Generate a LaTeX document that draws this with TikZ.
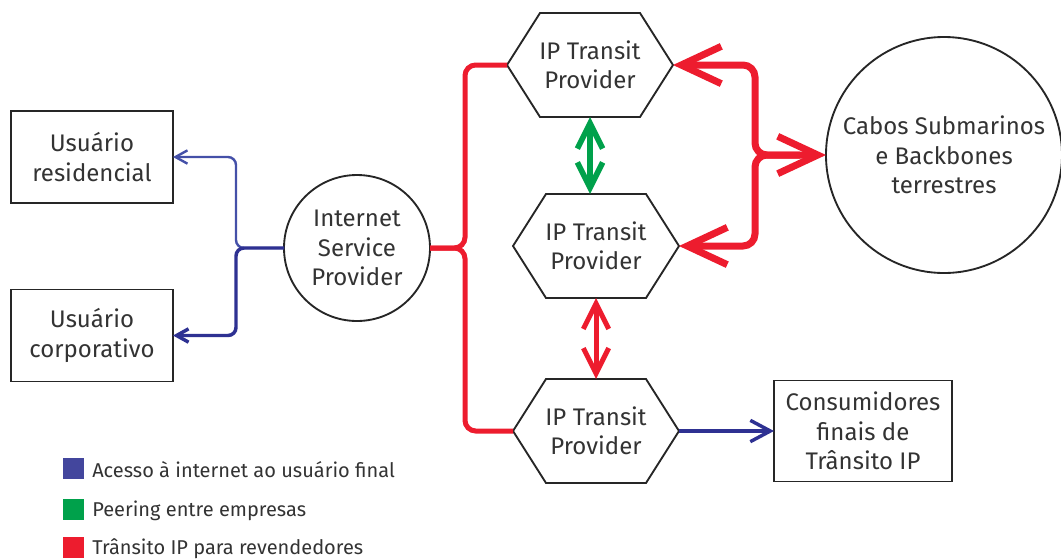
\documentclass[tikz,border=0pt]{standalone}
\usepackage{fontspec}
\setmainfont{Fira Sans}
\usetikzlibrary{arrows.meta}
\definecolor{cblue}{HTML}{2E3192}
\definecolor{cblueL}{HTML}{4450A8}
\definecolor{cgreen}{HTML}{00A14B}
\definecolor{cred}{HTML}{ED1C2E}
\definecolor{txt}{HTML}{333333}
\newcommand\hexoutline[1]{%
  \draw[hexline] (#1.west) -- ([xshift=24.75pt]#1.north west) -- ([xshift=-24.75pt]#1.north east)
    -- (#1.east) -- ([xshift=-24.75pt]#1.south east) -- ([xshift=24.75pt]#1.south west) -- cycle;}
\tikzset{
  lbl/.style={font=\fontsize{18}{22}\selectfont, text=txt, align=center},
  boxnode/.style={lbl, draw=black!85, line width=1.4pt, minimum width=121.5pt, minimum height=69pt, inner sep=0pt, outer sep=0pt},
  circnode/.style={lbl, draw=black!85, line width=1.4pt, circle, inner sep=0pt, outer sep=0pt},
  hexbox/.style={lbl, minimum width=124.5pt, minimum height=78pt, inner sep=0pt, outer sep=0pt},
  hexline/.style={draw=black!85, line width=1.4pt, line join=miter},
  legsq/.style={minimum size=15.75pt, inner sep=0pt, outer sep=0pt},
  legtxt/.style={font=\fontsize{15}{18}\selectfont, text=txt, inner sep=0pt, anchor=base west},
  bluethin/.style={draw=cblueL, line width=1.8pt, rounded corners=6pt},
  bluethick/.style={draw=cblue, line width=2.6pt, rounded corners=6pt},
  redleft/.style={draw=cred, line width=3.75pt, rounded corners=8pt},
  redright/.style={draw=cred, line width=5.25pt, rounded corners=9pt},
  bigbarb/.tip={Straight Barb[length=30pt, width=28pt]},
  smallbarb/.tip={Straight Barb[length=9pt, width=10pt]},
  midbarb/.tip={Straight Barb[length=19pt, width=19pt]},
  consbarb/.tip={Straight Barb[length=15pt, width=16pt]},
}
\begin{document}
\begin{tikzpicture}[x=0.75pt, y=-0.75pt]
\useasboundingbox (0,0) rectangle (1061,558);

% nodes
\node[boxnode] (res) at (92,157) {Usuário\\residencial};
\node[boxnode] (corp) at (92,335.5) {Usuário\\corporativo};
\node[circnode, minimum size=109.5pt] (isp) at (357,248) {Internet\\Service\\Provider};
\node[hexbox] (h1) at (590,65) {IP Transit\\Provider};
\node[hexbox] (h2) at (596,246) {IP Transit\\Provider};
\node[hexbox] (h3) at (596,431) {IP Transit\\Provider};
\hexoutline{h1}
\hexoutline{h2}
\hexoutline{h3}
\node[circnode, minimum size=177pt] (cab) at (944,155) {Cabos Submarinos\\e Backbones\\terrestres};
\node[boxnode, minimum width=133.5pt, minimum height=75.75pt] (cons) at (863,431) {Consumidores\\finais de\\Trânsito IP};

% blue connectors
\coordinate (bj) at (236,248);
\draw[bluethin, -{smallbarb}] (isp.west) -- (bj) -- (bj |- res.east) -- (res.east);
\draw[bluethick, -{smallbarb}] (isp.west) -- (bj) -- (bj |- corp.east) -- (corp.east);
\draw[draw=cblue, line width=2.6pt, -{consbarb}] (h3.east) -- (cons.west);

% red left
\coordinate (rj) at (465,248);
\draw[redleft] (isp.east) -- (rj) -- (rj |- h1.west) -- (h1.west);
\draw[redleft] (isp.east) -- (rj) -- (rj |- h3.west) -- (h3.west);

% red right
\coordinate (rr) at (755,155);
\coordinate (rs) at (800,155);
\draw[redright, {bigbarb}-{bigbarb}] (cab.west) -- (rr) -- (rr |- h1.east) -- (h1.east);
\draw[redright, -{bigbarb}] (rs) -- (rr) -- (rr |- h2.east) -- (h2.east);

% vertical double arrows
\draw[draw=cgreen, line width=4.2pt, {midbarb}-{midbarb}] (h1.south) -- (h1.south |- h2.north);
\draw[draw=cred, line width=3.75pt, {midbarb}-{midbarb}] (h2.south) -- (h3.north);

% legend
\node[legsq, fill=cblue!90!white] (l1) at (73.5,468.5) {};
\node[legsq, fill=cgreen] (l2) at (73.5,509) {};
\node[legsq, fill=cred] (l3) at (73.5,547.5) {};
\node[legtxt] (t1) at (92,477) {Acesso à internet ao usuário final};
\node[legtxt] (t2) at (92,516.5) {Peering entre empresas};
\node[legtxt] (t3) at (92,554) {Trânsito IP para revendedores};
\end{tikzpicture}
\end{document}
